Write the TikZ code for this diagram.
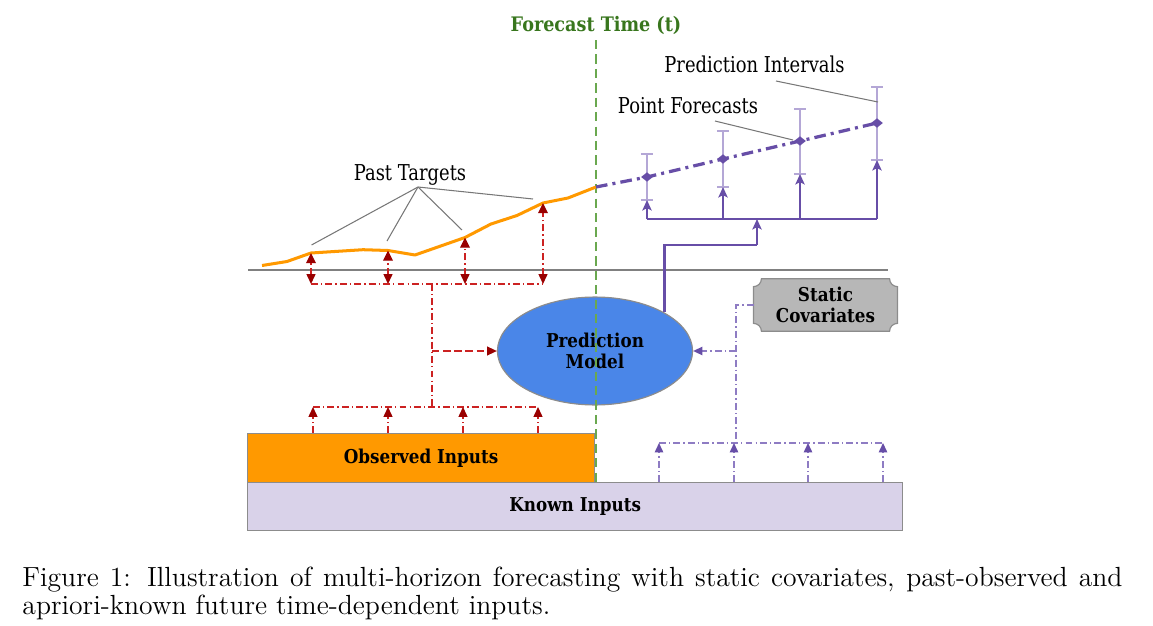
\documentclass[tikz,border=0pt]{standalone}
\usepackage{fontspec}
\newfontfamily\dfont{DejaVu Serif}[FakeStretch=0.82]
\newfontfamily\dbold{DejaVu Serif}[FakeStretch=0.88]
\usetikzlibrary{arrows.meta,shapes.geometric,backgrounds}
\definecolor{cOrange}{HTML}{FF9900}
\definecolor{cKnown}{HTML}{D9D2E9}
\definecolor{cBlue}{HTML}{4A86E8}
\definecolor{cStatic}{HTML}{B7B7B7}
\definecolor{cGreenT}{HTML}{38761D}
\definecolor{cGreenL}{HTML}{6AA84F}
\definecolor{cPurple}{HTML}{674EA7}
\definecolor{cLPurple}{HTML}{B4A7D6}
\definecolor{cMPurple}{HTML}{8E7CC3}
\definecolor{cRed}{HTML}{CC2222}
\definecolor{cDRed}{HTML}{990000}
\definecolor{cLead}{HTML}{777777}
\begin{document}
\begin{tikzpicture}[x=0.43pt,y=-0.43pt,
  lbl/.style={font=\dfont\fontsize{9.4}{11}\selectfont, inner sep=0, anchor=base},
  bfont/.style={font=\dbold\bfseries\fontsize{8.2}{9.2}\selectfont},
  boxn/.style={bfont, draw=black!45, line width=0.5pt, align=center, inner sep=0, anchor=north west},
  redln/.style={draw=cRed, line width=0.55pt, dash pattern=on 3pt off 1.3pt on 0.6pt off 1.3pt},
  redtip/.style={-{Triangle[width=3.8pt,length=4.2pt,color=cDRed]}},
  redboth/.style={{Triangle[width=3.8pt,length=4.2pt,color=cDRed]}-{Triangle[width=4.2pt,length=4.4pt,color=cDRed]}},
  pln/.style={draw=cPurple, line width=0.9pt},
  ptip/.style={-{Stealth[width=4pt,length=4.5pt,inset=1pt,color=cPurple]}},
  sln/.style={draw=cMPurple, line width=0.55pt, dash pattern=on 3pt off 1.3pt on 0.6pt off 1.3pt},
  stip/.style={-{Triangle[width=3.6pt,length=4pt,color=cPurple]}},
  ivl/.style={draw=cLPurple, line width=0.7pt},
  lead/.style={draw=cLead, line width=0.45pt},
  dmd/.style={diamond, fill=cPurple, inner sep=0, minimum width=5.2pt, minimum height=4.2pt}
]
\useasboundingbox (0,0) rectangle (1153,626);

% title
\node[font=\dbold\bfseries\fontsize{8.6}{10}\selectfont, text=cGreenT, inner sep=0, anchor=base] (ft) at (596,31) {Forecast Time (t)};

% boxes
\node[boxn, fill=cOrange, minimum width=149.2pt, minimum height=21.1pt] (obs) at (247,433) {Observed Inputs};
\node[boxn, fill=cKnown, minimum width=281.7pt, minimum height=20.6pt] (known) at (247,482) {Known Inputs};

% prediction model
\node[ellipse, bfont, fill=cBlue, draw=black!45, line width=0.5pt, align=center, inner sep=0,
      minimum width=83.9pt, minimum height=46.4pt] (pm) at (595,351) {Prediction\\Model};

% static covariates
\node[bfont, align=center, inner sep=0, minimum width=61.5pt, minimum height=22.2pt] (sc) at (825.5,305) {Static\\Covariates};
\begin{pgfonlayer}{background}
\draw[x=1pt,y=1pt, fill=cStatic, draw=black!45, line width=0.5pt]
  ([xshift=3.4pt]sc.north west) -- ([xshift=-3.4pt]sc.north east)
  arc[start angle=180,end angle=270,radius=3.4pt] -- ([yshift=3.4pt]sc.south east)
  arc[start angle=90,end angle=180,radius=3.4pt] -- ([xshift=3.4pt]sc.south west)
  arc[start angle=0,end angle=90,radius=3.4pt] -- ([yshift=-3.4pt]sc.north west)
  arc[start angle=270,end angle=360,radius=3.4pt] -- cycle;
\end{pgfonlayer}

% forecast time line
\coordinate (gtop) at (596,40);
\coordinate (gbot) at (596,482);
\draw[cGreenL, line width=0.7pt, dash pattern=on 4pt off 2.2pt] (gtop) -- (gbot);

% baseline
\coordinate (g1) at (248,270);
\coordinate (g2) at (888,270);
\draw[black!50, line width=0.5pt] (g1) -- (g2);

% past targets curve
\coordinate (t1) at (311,253);
\coordinate (t2) at (388,250.5);
\coordinate (t3) at (465,237.5);
\coordinate (t4) at (543,203);
\coordinate (f0) at (596,187);
\draw[cOrange, line width=1.3pt, line join=round]
  (262,265.5) -- (287,261.5) -- (t1) -- (363,249.7) -- (t2) -- (415,255) -- (t3)
  -- (491,224) -- (517,215.5) -- (t4) -- (568,198) -- (f0);

% red arrows (past targets)
\coordinate (b1) at (311,284);
\coordinate (b2) at (388,284);
\coordinate (b3) at (465,284);
\coordinate (b4) at (543,284);
\foreach \i in {1,...,4} {\draw[redln, redboth] (b\i) -- (t\i);}
\draw[redln] (b1) -- (b4);
\coordinate (rj) at (432,284);
\coordinate (rm) at (432,351);
\coordinate (rl) at (432,407);
\draw[redln] (rj) -- (rl);
\draw[draw=cRed, line width=0.6pt, dash pattern=on 3.2pt off 1.6pt, redtip] (rm) -- (pm.west);

% red arrows (observed inputs)
\coordinate (l1) at (313,407);
\coordinate (l2) at (388,407);
\coordinate (l3) at (463,407);
\coordinate (l4) at (538,407);
\coordinate (u1) at (313,433);
\coordinate (u2) at (388,433);
\coordinate (u3) at (463,433);
\coordinate (u4) at (538,433);
\draw[redln] (l1) -- (l4);
\foreach \i in {1,...,4} {\draw[redln, redtip] (u\i) -- (l\i);}

% forecasts
\coordinate (e1t) at (647,154);  \coordinate (e1b) at (647,200);
\coordinate (e2t) at (723,131);  \coordinate (e2b) at (723,187);
\coordinate (e3t) at (800,109);  \coordinate (e3b) at (800,174);
\coordinate (e4t) at (877,87);   \coordinate (e4b) at (877,160);
\foreach \i in {1,...,4} {
  \draw[ivl] (e\i t) -- (e\i b);
  \draw[ivl] ([xshift=-2.6pt]e\i t) -- ([xshift=2.6pt]e\i t);
  \draw[ivl] ([xshift=-2.6pt]e\i b) -- ([xshift=2.6pt]e\i b);
}
\node[dmd] (d1) at (647,177) {};
\node[dmd] (d2) at (723,159) {};
\node[dmd] (d3) at (800,141) {};
\node[dmd] (d4) at (877,123) {};
\draw[cPurple, line width=1.4pt, dash pattern=on 5pt off 2.2pt on 1.3pt off 2.2pt]
  (f0) -- (d1.center) -- (d2.center) -- (d3.center) -- (d4.center);

% output tree
\coordinate (h1) at (647,219);
\coordinate (h2) at (723,219);
\coordinate (h3) at (800,219);
\coordinate (h4) at (877,219);
\coordinate (hm) at (757,219);
\coordinate (j1) at (757,245);
\draw[pln] (h1) -- (h4);
\foreach \i in {1,...,4} {\draw[pln, ptip] (h\i) -- (e\i b);}
\draw[pln] (pm.29.6) |- (j1);
\draw[pln, ptip] (j1) -- (hm);

% static / known inputs
\coordinate (sb) at (736,443);
\coordinate (sm) at (736,351);
\draw[sln] (sc.west) -| (sb);
\draw[sln, stip] (sm) -- (pm.east);
\coordinate (k1) at (659,443);
\coordinate (k2) at (734,443);
\coordinate (k3) at (808,443);
\coordinate (k4) at (883,443);
\coordinate (v1) at (659,482);
\coordinate (v2) at (734,482);
\coordinate (v3) at (808,482);
\coordinate (v4) at (883,482);
\draw[sln] (k1) -- (k4);
\foreach \i in {1,...,4} {\draw[sln, stip] (v\i) -- (k\i);}

% labels
\node[lbl] (ptl) at (410,180) {Past Targets};
\coordinate (pj) at (418,187);
\coordinate (q1) at (311.5,245);
\coordinate (q2) at (387,241);
\coordinate (q3) at (462,230);
\coordinate (q4) at (533,199);
\foreach \i in {1,...,4} {\draw[lead] (pj) -- (q\i);}
\node[lbl] (pfl) at (688,113) {Point Forecasts};
\coordinate (pf1) at (715,121);
\coordinate (pf2) at (793,140);
\draw[lead] (pf1) -- (pf2);
\node[lbl] (pil) at (754.5,72.5) {Prediction Intervals};
\coordinate (pi1) at (776,81);
\coordinate (pi2) at (878,102);
\draw[lead] (pi1) -- (pi2);

% caption
\node[anchor=north west, inner sep=0, text width=473pt, align=justify,
      font=\fontsize{11.9}{12.04}\selectfont] (cap) at (22,567)
  {Figure 1: Illustration of multi-horizon forecasting with static covariates, past-observed and\linebreak apriori-known future time-dependent inputs.};
\end{tikzpicture}
\end{document}
